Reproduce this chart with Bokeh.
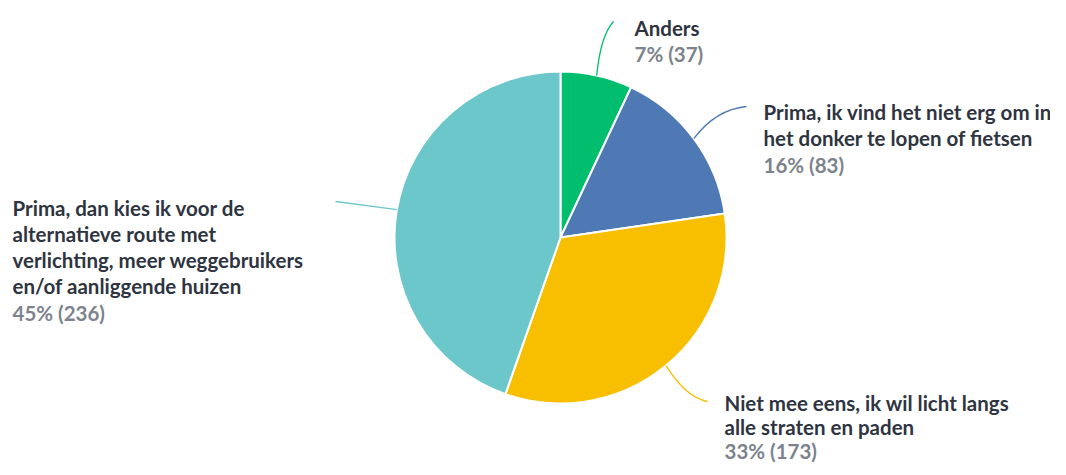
import numpy as np
from bokeh.plotting import figure
from bokeh.models import Range1d, ColumnDataSource
from bokeh.core.properties import value
from bokeh.embed import file_html
from bokeh.resources import INLINE

# ---- data ----
categories = [
    "Anders",
    "Prima, ik vind het niet erg om in\nhet donker te lopen of fietsen",
    "Niet mee eens, ik wil licht langs\nalle straten en paden",
    "Prima, dan kies ik voor de\nalternatieve route met\nverlichting, meer weggebruikers\nen/of aanliggende huizen",
]
counts = [37, 83, 173, 236]
percent_labels = ["7% (37)", "16% (83)", "33% (173)", "45% (236)"]
colors = ["#00BE6E", "#4E79B4", "#F8BE00", "#6CC7CB"]

# ---- layout (data units == screen pixels) ----
W, H = 1050, 467
def Y(sy):
    return H - sy

cx, cy, R = 560, 237, 166
label_pos = [(634, 27), (763, 111), (724, 402), (12, 207)]  # first line centre
line_h = [26.5, 26.5, 24, 26.3]
FS = "20.5px"

p = figure(width=W, height=H, output_backend="svg", toolbar_location=None,
           x_range=Range1d(0, W), y_range=Range1d(0, H),
           min_border=0, outline_line_color=None)
p.axis.visible = False
p.grid.visible = False
p.background_fill_color = "white"

vals = np.array(counts, dtype=float)
frac = vals / vals.sum()
cum = np.concatenate([[0], np.cumsum(frac)])
start = np.pi / 2 - cum[:-1] * 2 * np.pi
end = np.pi / 2 - cum[1:] * 2 * np.pi
src = ColumnDataSource(dict(start=start, end=end, color=colors))
p.wedge(x=cx, y=Y(cy), radius=R, start_angle="start", end_angle="end",
        direction="clock", fill_color="color", line_color="white",
        line_width=2, source=src)

# connectors
mid = (cum[:-1] + cum[1:]) / 2 * 2 * np.pi
ends = [(613, 21), (746, 106), (707, 401), (335, 201)]
for i in range(4):
    sx = cx + R * np.sin(mid[i])
    sy = cy - R * np.cos(mid[i])
    ex, ey = ends[i]
    if i == 0:
        c = (sx + 4, ey + 14)
    elif i == 1:
        c = (sx + 22, ey + 3)
    elif i == 2:
        c = (sx + 20, ey - 4)
    else:
        c = ((sx + ex) / 2, (sy + ey) / 2)
    p.quadratic(x0=sx, y0=Y(sy), x1=ex, y1=Y(ey), cx=c[0], cy=Y(c[1]),
                line_color=colors[i], line_width=1.3)

# labels
for i in range(4):
    lx, ly = label_pos[i]
    lines = categories[i].split("\n")
    ys = [Y(ly + k * line_h[i]) for k in range(len(lines))]
    p.text(x=[lx] * len(lines), y=ys, text=lines, text_font=value("Lato"),
           text_font_style="bold", text_font_size=FS, text_color="#2E3440",
           text_baseline="middle", text_align="left")
    p.text(x=[lx], y=[Y(ly + len(lines) * line_h[i])], text=[percent_labels[i]],
           text_font=value("Lato"), text_font_style="bold",
           text_font_size=FS, text_color="#7C838C",
           text_baseline="middle", text_align="left")

open("out.html", "w").write(file_html(p, INLINE))
